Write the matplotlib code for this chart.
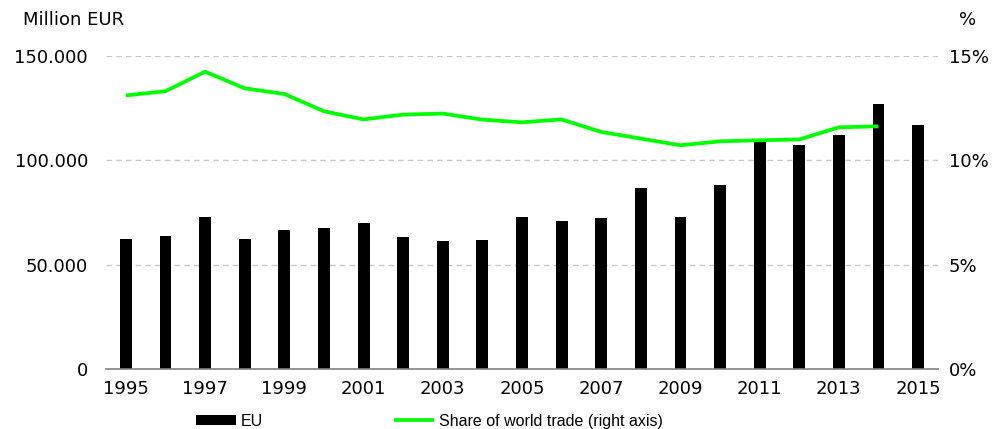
import numpy as np
import matplotlib.pyplot as plt
from matplotlib.ticker import FuncFormatter

# data
years = list(range(1995, 2016))
eu = [62500, 63700, 72800, 62500, 66600, 67700, 70100, 63400, 61100, 61800,
      73000, 71000, 72300, 86600, 72600, 88300, 108600, 107200, 112300, 127200, 117100]
share_years = list(range(1995, 2015))
share = [13.11, 13.31, 14.25, 13.45, 13.18, 12.35, 11.96, 12.19, 12.24, 11.95,
         11.82, 11.96, 11.36, 11.04, 10.72, 10.91, 10.96, 11.0, 11.58, 11.63]

plt.rcParams['font.family'] = ['DejaVu Sans']
fs = 13

fig = plt.figure(figsize=(10.01, 4.29), dpi=100)
ax = fig.add_axes([0.106, 0.14, 0.831, 0.7295])

bars = ax.bar(years, eu, width=0.3, color='black', label='EU', zorder=2)

ax.set_xlim(1994.5, 2015.5)
ax.set_ylim(0, 150000)
ax.set_yticks([0, 50000, 100000, 150000])
ax.yaxis.set_major_formatter(FuncFormatter(lambda v, p: f'{int(v):,}'.replace(',', '.')))
ax.set_xticks(years[::2])
ax.tick_params(axis='y', length=0, labelsize=fs, pad=13)
ax.tick_params(axis='x', length=0, labelsize=fs, pad=8)
for y in [50000, 100000, 150000]:
    ax.axhline(y, color='#c8c8c8', linewidth=1, linestyle=(0, (4, 3)), zorder=1)
for s in ['top', 'right', 'left']:
    ax.spines[s].set_visible(False)
ax.spines['bottom'].set_color('#808080')
ax.spines['bottom'].set_linewidth(1.2)

ax2 = ax.twinx()
line, = ax2.plot(share_years, share, color='#00ff00', linewidth=2.7,
                 label='Share of world trade (right axis)', solid_capstyle='butt')
ax2.set_ylim(0, 15)
ax2.set_yticks([0, 5, 10, 15])
ax2.set_yticklabels(['0%', '5%', '10%', '15%'])
ax2.tick_params(length=0, labelsize=fs, pad=8)
for s in ax2.spines.values():
    s.set_visible(False)

fig.text(0.023, 0.953, 'Million EUR', fontsize=fs, va='center', ha='left')
fig.text(0.975, 0.953, '%', fontsize=fs, va='center', ha='right')

fig.legend([bars, line], ['EU', 'Share of world trade (right axis)'],
           loc='center', bbox_to_anchor=(0.429, 0.018), ncol=2, frameon=False,
           prop={'family': 'Liberation Sans', 'size': 11.5},
           handlelength=2.5, handletextpad=0.3, columnspacing=8.2, handleheight=0.6)

fig.savefig('out.png', dpi=100)
